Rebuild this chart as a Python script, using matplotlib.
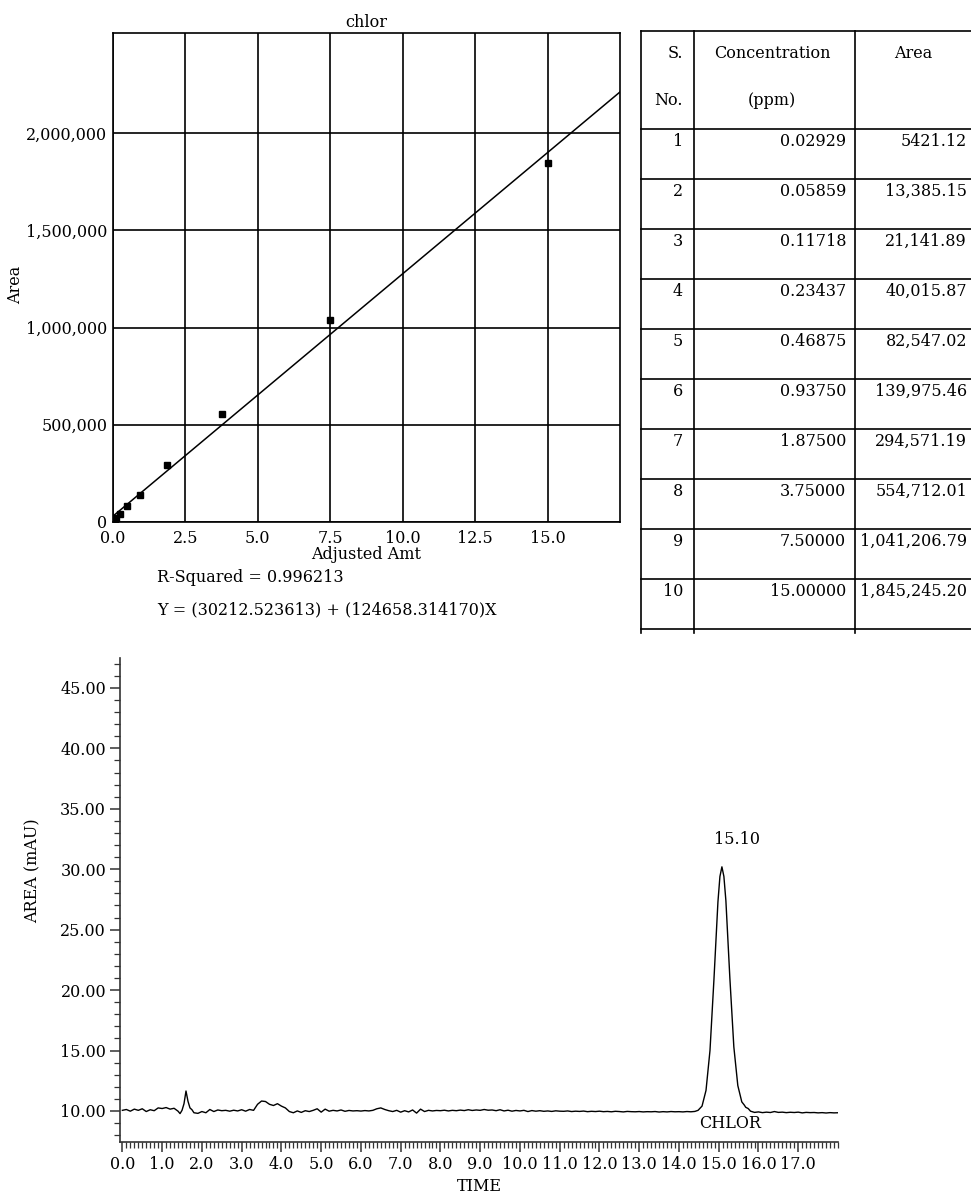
import matplotlib.pyplot as plt
from matplotlib.ticker import FuncFormatter, MultipleLocator

plt.rcParams['font.family'] = ['DejaVu Serif']

# calibration data (from the table)
sample_no = [1, 2, 3, 4, 5, 6, 7, 8, 9, 10]
conc = [0.02929, 0.05859, 0.11718, 0.23437, 0.46875, 0.93750, 1.87500, 3.75000, 7.50000, 15.00000]
area = [5421.12, 13385.15, 21141.89, 40015.87, 82547.02, 139975.46, 294571.19, 554712.01, 1041206.79, 1845245.20]
conc_labels = ['0.02929', '0.05859', '0.11718', '0.23437', '0.46875', '0.93750', '1.87500', '3.75000', '7.50000', '15.00000']
area_labels = ['5421.12', '13,385.15', '21,141.89', '40,015.87', '82,547.02', '139,975.46',
               '294,571.19', '554,712.01', '1,041,206.79', '1,845,245.20']
intercept = 30212.523613
slope = 124658.314170
r_squared = 0.996213
fit_x = [0.0, 17.5]

# chromatogram trace (time in min, signal in mAU)
chrom_time = [
    0.0, 0.1, 0.2, 0.3, 0.4, 0.5, 0.6, 0.7, 0.8, 0.9, 1.0, 1.1, 1.2, 1.3, 1.4, 1.45,
    1.5, 1.55, 1.6, 1.65, 1.7, 1.75, 1.8, 1.9, 2.0, 2.1, 2.2, 2.3, 2.4, 2.5, 2.6, 2.7,
    2.8, 2.9, 3.0, 3.1, 3.2, 3.3, 3.4, 3.5, 3.6, 3.7, 3.8, 3.9, 4.0, 4.1, 4.2, 4.3,
    4.4, 4.5, 4.6, 4.7, 4.8, 4.9, 5.0, 5.1, 5.2, 5.3, 5.4, 5.5, 5.6, 5.7, 5.8, 5.9,
    6.0, 6.1, 6.2, 6.3, 6.4, 6.5, 6.6, 6.7, 6.8, 6.9, 7.0, 7.1, 7.2, 7.3, 7.4, 7.5,
    7.6, 7.7, 7.8, 7.9, 8.0, 8.1, 8.2, 8.3, 8.4, 8.5, 8.6, 8.7, 8.8, 8.9, 9.0, 9.1,
    9.2, 9.3, 9.4, 9.5, 9.6, 9.7, 9.8, 9.9, 10.0, 10.1, 10.2, 10.3, 10.4, 10.5, 10.6, 10.7,
    10.8, 10.9, 11.0, 11.1, 11.2, 11.3, 11.4, 11.5, 11.6, 11.7, 11.8, 11.9, 12.0, 12.1, 12.2, 12.3,
    12.4, 12.5, 12.6, 12.7, 12.8, 12.9, 13.0, 13.1, 13.2, 13.3, 13.4, 13.5, 13.6, 13.7, 13.8, 13.9,
    14.0, 14.1, 14.2, 14.3, 14.4, 14.48, 14.58, 14.68, 14.78, 14.88, 14.98, 15.03, 15.08, 15.13, 15.18, 15.28,
    15.38, 15.48, 15.58, 15.64, 15.68, 15.74, 15.8, 15.9, 16.0, 16.1, 16.2, 16.3, 16.4, 16.5, 16.6, 16.7,
    16.8, 16.9, 17.0, 17.1, 17.2, 17.3, 17.4, 17.5, 17.6, 17.7, 17.8, 17.9, 18.0,
]
chrom_signal = [
    10.05, 10.12, 9.98, 10.15, 10.05, 10.18, 9.95, 10.10, 10.02, 10.25, 10.20, 10.28, 10.15, 10.22, 9.98, 9.78,
    10.05, 10.60, 11.65, 10.80, 10.25, 10.10, 9.85, 9.80, 9.95, 9.85, 10.12, 9.95, 10.08, 10.02, 10.05, 9.98,
    10.06, 10.00, 10.10, 9.98, 10.12, 10.05, 10.55, 10.82, 10.78, 10.55, 10.45, 10.60, 10.40, 10.25, 9.95, 9.85,
    10.00, 9.88, 10.02, 9.95, 10.05, 10.18, 9.90, 10.15, 9.98, 10.05, 10.00, 10.08, 9.97, 10.04, 10.00, 10.02,
    9.99, 10.03, 10.00, 10.05, 10.18, 10.25, 10.12, 10.02, 9.95, 10.05, 9.90, 10.02, 9.92, 10.08, 9.82, 10.15,
    9.95, 10.05, 10.00, 10.04, 10.02, 10.06, 10.00, 10.05, 10.02, 10.07, 10.03, 10.10, 10.04, 10.08, 10.05, 10.12,
    10.06, 10.08, 10.02, 10.10, 10.00, 10.06, 9.98, 10.04, 10.00, 10.05, 9.95, 10.03, 9.98, 10.02, 9.97, 10.00,
    9.96, 10.01, 9.98, 9.97, 10.00, 9.95, 9.98, 9.96, 9.99, 9.94, 9.97, 9.95, 9.98, 9.94, 9.96, 9.93,
    9.97, 9.95, 9.92, 9.96, 9.94, 9.93, 9.95, 9.92, 9.94, 9.93, 9.95, 9.91, 9.94, 9.92, 9.95, 9.93,
    9.94, 9.92, 9.95, 9.93, 9.96, 10.05, 10.40, 11.70, 15.00, 20.90, 27.30, 29.40, 30.20, 29.40, 27.40, 21.00,
    15.30, 12.10, 10.75, 10.50, 10.30, 10.20, 9.98, 9.88, 9.92, 9.86, 9.90, 9.87, 9.95, 9.88, 9.90, 9.86,
    9.89, 9.87, 9.90, 9.84, 9.88, 9.86, 9.87, 9.84, 9.86, 9.83, 9.86, 9.84, 9.85,
]
peak_rt = '15.10'
peak_name = 'CHLOR'

W, H = 971, 1199
fig = plt.figure(figsize=(W / 100, H / 100), dpi=100)
fs = 11.5

# ---- calibration curve ----
ax1 = fig.add_axes([113 / W, 1 - 522 / H, 507 / W, 489 / H])
fit_y = [intercept + slope * x for x in fit_x]
ax1.plot(fit_x, fit_y, color='black', lw=1.1, zorder=3)
ax1.plot(conc, area, 's', color='black', ms=4.2, zorder=4)
ax1.set_xlim(0, 17.5)
ax1.set_ylim(0, 2515000)
ax1.set_xticks([0, 2.5, 5.0, 7.5, 10.0, 12.5, 15.0])
ax1.set_yticks([0, 500000, 1000000, 1500000, 2000000])
ax1.xaxis.set_major_formatter(FuncFormatter(lambda v, p: f'{v:.1f}'))
ax1.yaxis.set_major_formatter(FuncFormatter(lambda v, p: f'{v:,.0f}'))
ax1.grid(True, color='black', lw=1.2)
ax1.tick_params(length=0, labelsize=fs)
ax1.tick_params(axis='x', pad=6)
ax1.tick_params(axis='y', pad=4)
for s in ax1.spines.values():
    s.set_linewidth(1.2)
ax1.set_title('chlor', fontsize=fs, pad=4)
ax1.set_xlabel('Adjusted Amt', fontsize=fs, labelpad=-1)
ax1.set_ylabel('Area', fontsize=fs)
ax1.yaxis.set_label_coords(-0.175, 0.485)

fig.text(157 / W, 1 - 578 / H, f'R-Squared = {r_squared:.6f}', fontsize=fs, va='center')
fig.text(157 / W, 1 - 610 / H, f'Y = ({intercept:.6f}) + ({slope:.6f})X', fontsize=fs, va='center')

# ---- table ----
axt = fig.add_axes([641 / W, 1 - 634 / H, 330 / W, 605 / H])
axt.set_xlim(641, 971)
axt.set_ylim(634, 29)
axt.axis('off')
col_x = [641, 694, 855]
row_lines = [31, 129] + [129 + 50 * (i + 1) for i in range(len(sample_no))]
for x in col_x:
    axt.plot([x, x], [31, 633], color='black', lw=1.2, clip_on=False)
for y in row_lines:
    axt.plot([641, 971], [y, y], color='black', lw=1.2, clip_on=False)
axt.text(683, 58, 'S.', ha='right', va='baseline', fontsize=fs)
axt.text(683, 105, 'No.', ha='right', va='baseline', fontsize=fs)
axt.text(772, 58, 'Concentration', ha='center', va='baseline', fontsize=fs)
axt.text(772, 105, '(ppm)', ha='center', va='baseline', fontsize=fs)
axt.text(913, 58, 'Area', ha='center', va='baseline', fontsize=fs)
for i, (n, c, a) in enumerate(zip(sample_no, conc_labels, area_labels)):
    yb = row_lines[i + 1] + 17
    axt.text(683, yb, str(n), ha='right', va='baseline', fontsize=fs)
    axt.text(846, yb, c, ha='right', va='baseline', fontsize=fs)
    axt.text(967, yb, a, ha='right', va='baseline', fontsize=fs, clip_on=False)

# ---- chromatogram ----
ax2 = fig.add_axes([120 / W, 1 - 1142 / H, 718 / W, 484 / H])
ax2.plot(chrom_time, chrom_signal, color='black', lw=1.0)
ax2.set_xlim(-0.06, 18.0)
ax2.set_ylim(7.43, 47.48)
ax2.spines['top'].set_visible(False)
ax2.spines['right'].set_visible(False)
for s in ('left', 'bottom'):
    ax2.spines[s].set_linewidth(1.2)
    ax2.spines[s].set_color('#333333')
ax2.set_xticks([float(i) for i in range(18)])
ax2.set_yticks([10, 15, 20, 25, 30, 35, 40, 45])
ax2.xaxis.set_major_formatter(FuncFormatter(lambda v, p: f'{v:.1f}'))
ax2.yaxis.set_major_formatter(FuncFormatter(lambda v, p: f'{v:.2f}'))
ax2.xaxis.set_minor_locator(MultipleLocator(0.1))
ax2.yaxis.set_minor_locator(MultipleLocator(1))
ax2.tick_params(which='major', length=7, width=1.1, color='#333333', labelsize=fs, pad=3)
ax2.tick_params(which='minor', length=4, width=0.9, color='#333333')
ax2.set_xlabel('TIME', fontsize=fs, labelpad=4)
ax2.set_ylabel('AREA (mAU)', fontsize=fs)
ax2.yaxis.set_label_coords(-0.11, 0.56)
ax2.text(15.45, 32.47, peak_rt, ha='center', va='center', fontsize=fs)
ax2.text(15.28, 8.92, peak_name, ha='center', va='center', fontsize=fs)

fig.savefig('out.png', dpi=100)
